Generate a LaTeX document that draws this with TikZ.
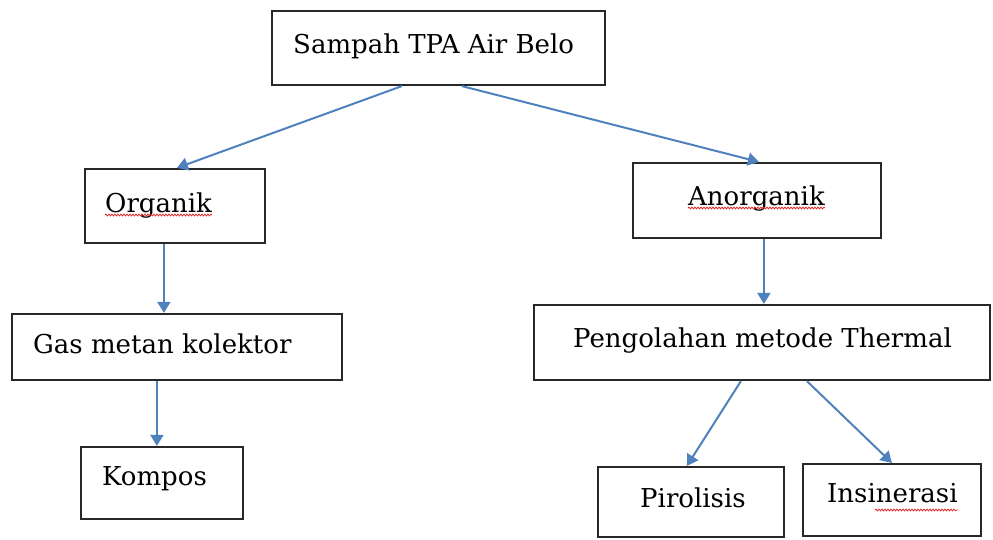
\documentclass[tikz,border=0pt]{standalone}
\usepackage{fontspec}
\setmainfont{DejaVu Serif}
\usepackage{tikz}
\usetikzlibrary{arrows.meta,decorations.pathmorphing}
\definecolor{arrowblue}{RGB}{79,129,189}
\definecolor{boxgray}{RGB}{40,40,40}
\definecolor{typored}{RGB}{220,40,40}

\begin{document}
\begin{tikzpicture}[x=1pt,y=-1pt,
        box/.style={draw=boxgray,line width=2.2pt,rectangle,inner sep=0pt},
        lbl/.style={anchor=base west,inner sep=0pt,font=\fontsize{26}{30}\selectfont,text=black},
        arr/.style={draw=arrowblue,line width=2pt,-{Triangle[width=13pt,length=11pt]}},
        typo/.style={draw=typored,line width=0.8pt,decorate,decoration={snake,amplitude=0.9pt,segment length=3pt}}]
        \useasboundingbox (0,0) rectangle (993,539);

        % Boxes
        \node[box,minimum width=333pt,minimum height=74pt] (top) at (438.5,48) {};
        \node[box,minimum width=180pt,minimum height=74pt] (org) at (175,206) {};
        \node[box,minimum width=248pt,minimum height=75pt] (anorg) at (757,200.5) {};
        \node[box,minimum width=330pt,minimum height=66pt] (gas) at (177,347) {};
        \node[box,minimum width=456pt,minimum height=75pt] (thermal) at (762,342.5) {};
        \node[box,minimum width=162pt,minimum height=72pt] (kompos) at (162,483) {};
        \node[box,minimum width=186pt,minimum height=70pt] (piro) at (691,502) {};
        \node[box,minimum width=178pt,minimum height=72pt] (insin) at (892,500) {};

        % Texts
        \node[lbl] (top-t) at (293,53) {Sampah TPA Air Belo};
        \node[lbl] (org-t) at (105,212) {Organik};
        \node[lbl] (anorg-t) at (688,205) {Anorganik};
        \node[lbl] (gas-t) at (33,353) {Gas metan kolektor};
        \node[lbl] (thermal-t) at (573,347) {Pengolahan metode Thermal};
        \node[lbl] (kompos-t) at (102,485) {Kompos};
        \node[lbl] (piro-t) at (640,507) {Pirolisis};
        \node[lbl] (insin-t) at (827,502) {Insinerasi};

        % Spelling marks
        \draw[typo] ([yshift=-3pt]org-t.base west) -- ([yshift=-3pt]org-t.base east);
        \draw[typo] ([yshift=-3pt]anorg-t.base west) -- ([yshift=-3pt]anorg-t.base east);
        \draw[typo] ([xshift=48pt,yshift=-8pt]insin-t.base west) -- ([yshift=-8pt]insin-t.base east);

        % Arrows
        \draw[arr] ([xshift=131pt]top.south west) -- ([xshift=93pt]org.north west);
        \draw[arr] ([xshift=191pt]top.south west) -- ([xshift=127pt]anorg.north west);
        \draw[arr] ([xshift=80pt]org.south west) -- ([xshift=153pt]gas.north west);
        \draw[arr] ([xshift=132pt]anorg.south west) -- ([xshift=231pt]thermal.north west);
        \draw[arr] ([xshift=146pt]gas.south west) -- ([xshift=77pt]kompos.north west);
        \draw[arr] ([xshift=208pt]thermal.south west) -- ([xshift=90pt]piro.north west);
        \draw[arr] ([xshift=274pt]thermal.south west) -- ([xshift=90pt]insin.north west);
\end{tikzpicture}
\end{document}
